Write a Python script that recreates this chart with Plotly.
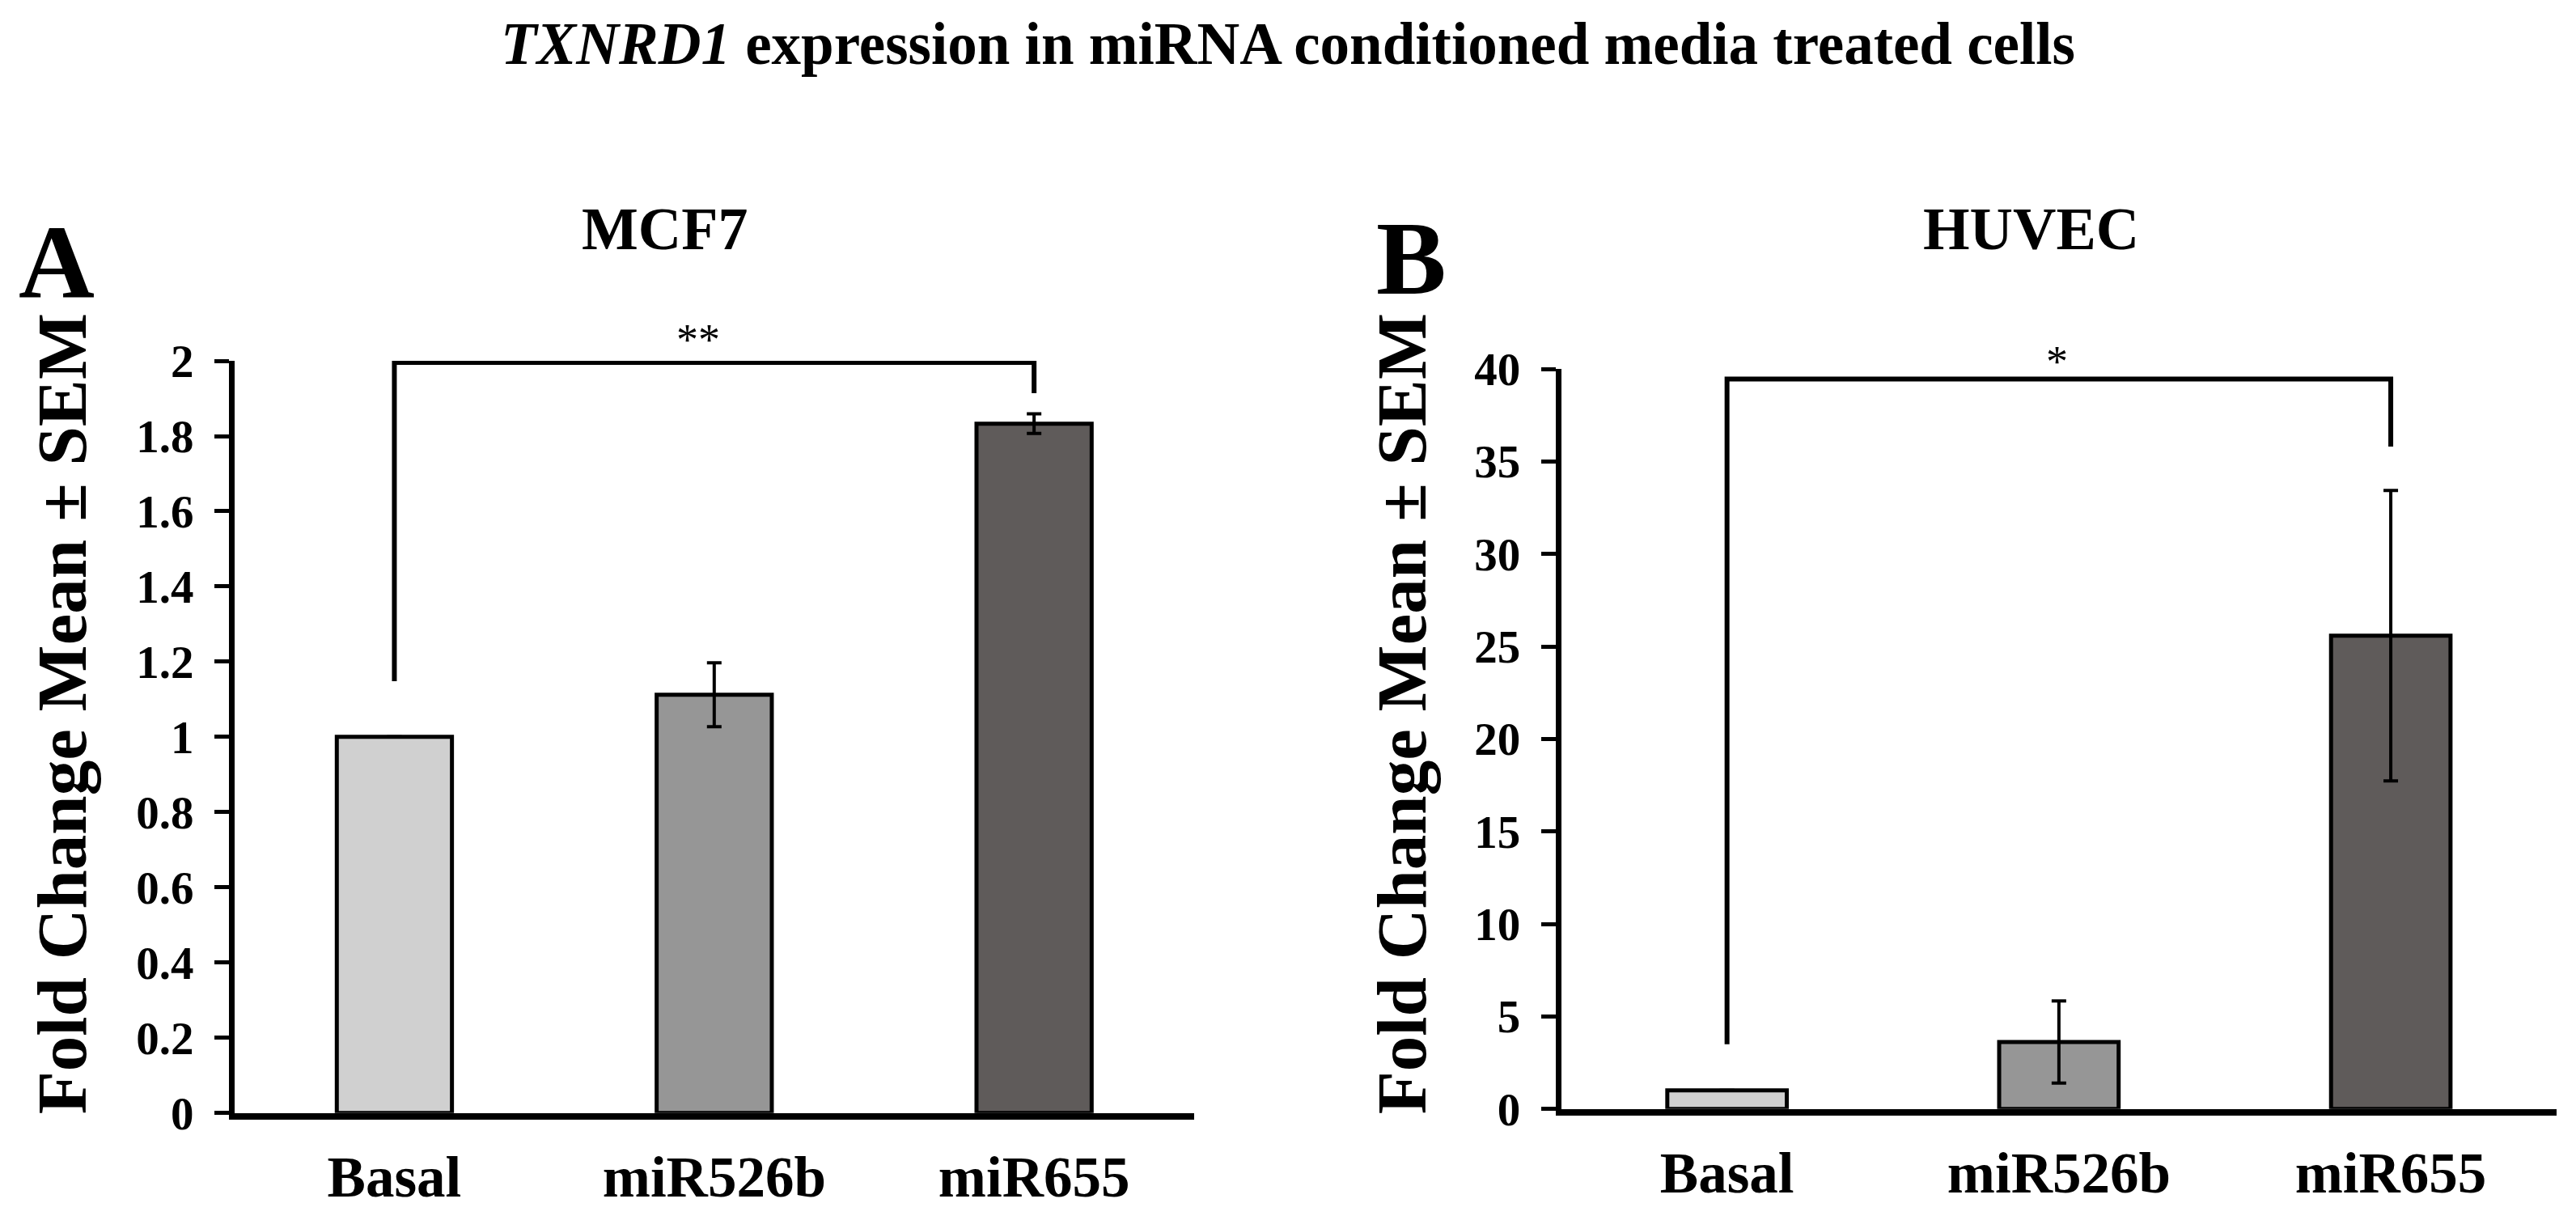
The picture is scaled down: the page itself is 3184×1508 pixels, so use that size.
import plotly.graph_objects as go

categories = ["Basal", "miR526b", "miR655"]
bar_colors = ["#d0d0d0", "#969696", "#5f5b5a"]

mcf7_values = [1.0, 1.112, 1.833]
mcf7_sem = [0.0, 0.085, 0.026]

huvec_values = [1.0, 3.62, 25.58]
huvec_sem = [0.0, 2.22, 7.85]

mcf7_ticks = [0, 0.2, 0.4, 0.6, 0.8, 1, 1.2, 1.4, 1.6, 1.8, 2]
mcf7_ticklabels = ["0", "0.2", "0.4", "0.6", "0.8", "1", "1.2", "1.4", "1.6", "1.8", "2"]
huvec_ticks = [0, 5, 10, 15, 20, 25, 30, 35, 40]
huvec_ticklabels = ["0", "5", "10", "15", "20", "25", "30", "35", "40"]

bracket_x = ["Basal", "Basal", "miR655", "miR655"]
bracket_a_y = [1.148, 1.996, 1.996, 1.914]
bracket_b_y = [3.5, 39.45, 39.45, 35.8]

FONT = "Liberation Serif"

fig = go.Figure()

fig.add_trace(go.Bar(
    x=categories, y=mcf7_values, width=0.36,
    marker=dict(color=bar_colors, line=dict(color="black", width=5)),
    error_y=dict(type="data", array=mcf7_sem, visible=True, color="black", thickness=4, width=9),
    xaxis="x", yaxis="y", showlegend=False,
))
fig.add_trace(go.Bar(
    x=categories, y=huvec_values, width=0.36,
    marker=dict(color=bar_colors, line=dict(color="black", width=5)),
    error_y=dict(type="data", array=huvec_sem, visible=True, color="black", thickness=4, width=9),
    xaxis="x2", yaxis="y2", showlegend=False,
))
fig.add_trace(go.Scatter(
    x=bracket_x, y=bracket_a_y, mode="lines",
    line=dict(color="black", width=6), xaxis="x", yaxis="y", showlegend=False,
))
fig.add_trace(go.Scatter(
    x=bracket_x, y=bracket_b_y, mode="lines",
    line=dict(color="black", width=6), xaxis="x2", yaxis="y2", showlegend=False,
))

xcommon = dict(
    type="category", range=[-0.5, 2.5], showline=True, linecolor="black", linewidth=8,
    ticks="", showgrid=False, zeroline=False,
    tickfont=dict(family=FONT, size=71, color="black", weight="bold"), ticklabelstandoff=10,
)
ycommon = dict(
    showline=True, linecolor="black", linewidth=7, ticks="outside", ticklen=18,
    tickwidth=5, tickcolor="black", showgrid=False, zeroline=False,
    tickfont=dict(family=FONT, size=57, color="black", weight="bold"), ticklabelstandoff=14,
)

fig.update_layout(
    width=3184, height=1508, autosize=False,
    margin=dict(l=0, r=0, t=0, b=0),
    paper_bgcolor="white", plot_bgcolor="white",
    font=dict(family=FONT, color="black"),
    xaxis=dict(domain=[0.0885, 0.461], anchor="y", **xcommon),
    yaxis=dict(domain=[0.0750, 0.7183], anchor="x", range=[0, 2],
               tickvals=mcf7_ticks, ticktext=mcf7_ticklabels, **ycommon),
    xaxis2=dict(domain=[0.6035, 0.990], anchor="y2", **xcommon),
    yaxis2=dict(domain=[0.0784, 0.7114], anchor="x2", range=[0, 40],
                tickvals=huvec_ticks, ticktext=huvec_ticklabels, **ycommon),
)

annotations = [
    dict(text="<b><i>TXNRD1</i> expression in miRNA conditioned media treated cells</b>",
         x=0.4975, y=0.989, xref="paper", yref="paper", showarrow=False,
         font=dict(family=FONT, size=73), xanchor="center", yanchor="middle"),
    dict(text="<b>MCF7</b>", x=814 / 3184, y=0.8308, xref="paper", yref="paper",
         showarrow=False, font=dict(family=FONT, size=74), xanchor="center", yanchor="middle"),
    dict(text="<b>HUVEC</b>", x=2502 / 3184, y=0.8308, xref="paper", yref="paper",
         showarrow=False, font=dict(family=FONT, size=74), xanchor="center", yanchor="middle"),
    dict(text="<b>A</b>", x=62 / 3184, y=0.8033, xref="paper", yref="paper",
         showarrow=False, font=dict(family=FONT, size=130), xanchor="center", yanchor="middle"),
    dict(text="<b>B</b>", x=1736 / 3184, y=0.806, xref="paper", yref="paper",
         showarrow=False, font=dict(family=FONT, size=130), xanchor="center", yanchor="middle"),
    dict(text="<b>Fold Change Mean ± SEM</b>", x=68 / 3184, y=0.4164, xref="paper",
         yref="paper", showarrow=False, textangle=-90, font=dict(family=FONT, size=87),
         xanchor="center", yanchor="middle"),
    dict(text="<b>Fold Change Mean ± SEM</b>", x=1724 / 3184, y=0.4164, xref="paper",
         yref="paper", showarrow=False, textangle=-90, font=dict(family=FONT, size=87),
         xanchor="center", yanchor="middle"),
    dict(text="**", x=1, y=1.028, xref="x", yref="y domain", xshift=-20, showarrow=False,
         font=dict(family=FONT, size=54), xanchor="center", yanchor="middle"),
    dict(text="*", x=1, y=1.010, xref="x2", yref="y2 domain", xshift=-2, showarrow=False,
         font=dict(family=FONT, size=54), xanchor="center", yanchor="middle"),
]
fig.update_layout(annotations=annotations)

fig.write_html("out.html")
